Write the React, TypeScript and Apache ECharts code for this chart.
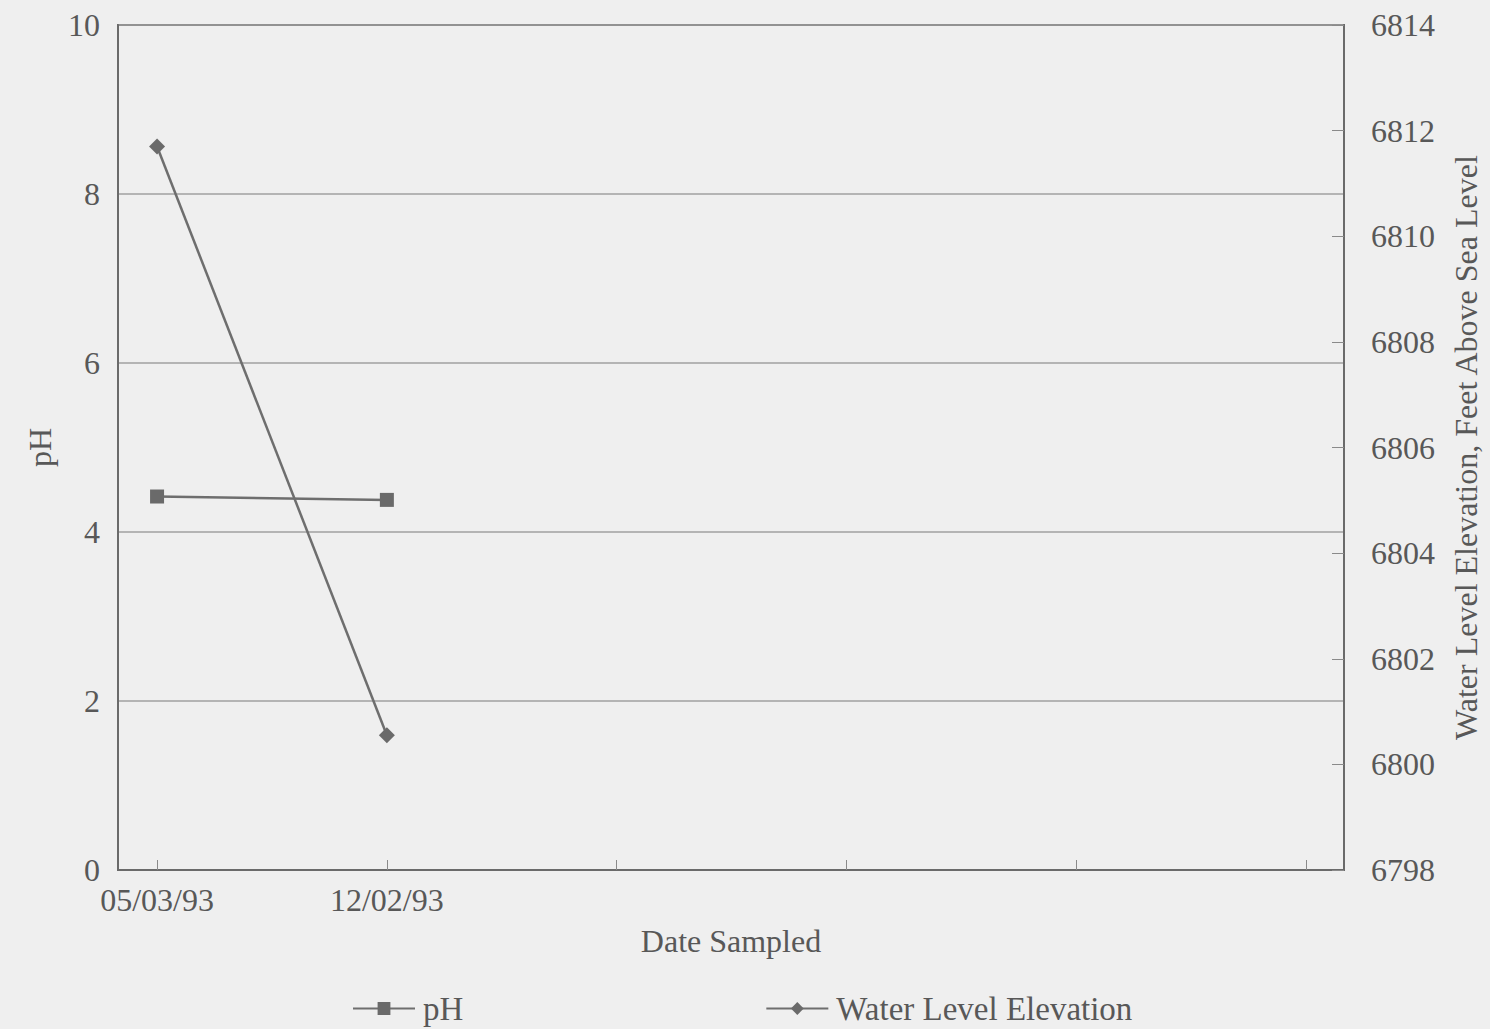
import React, { useEffect, useRef } from "react";
import * as echarts from "echarts";

const dates = ["05/03/93", "12/02/93"];
const xTickPositions = [0, 1, 2, 3, 4, 5];
const phValues = [4.42, 4.38];
const waterLevel = [6811.7, 6800.55];
const phTicks = { min: 0, max: 10, interval: 2 };
const elevTicks = { min: 6798, max: 6814, interval: 2 };

const FONT = "Liberation Serif";
const TXT = "#585858";
const LINE = "#6e6e6e";

export default function App() {
  const ref = useRef<HTMLDivElement>(null);
  useEffect(() => {
    if (!ref.current) return;
    const chart = echarts.init(ref.current, undefined, { renderer: "svg" });
    chart.setOption({
      animation: false,
      backgroundColor: "#efefef",
      textStyle: { fontFamily: FONT, color: TXT },
      grid: {
        left: 118,
        right: 143,
        top: 25,
        bottom: 159,
        show: true,
        borderColor: "#6a6a6a",
        borderWidth: 2,
        backgroundColor: "transparent",
      },
      legend: {
        left: 347,
        top: 987,
        itemWidth: 62,
        itemHeight: 16,
        itemGap: 302,
        textStyle: { fontFamily: FONT, fontSize: 33, color: TXT, padding: [0, 0, 0, 3] },
        data: ["pH", "Water Level Elevation"],
      },
      xAxis: {
        type: "value",
        min: -0.17,
        max: 5.165,
        name: "Date Sampled",
        nameLocation: "middle",
        nameGap: 55,
        nameTextStyle: { fontFamily: FONT, fontSize: 32, color: TXT },
        axisLine: { show: true, onZero: false, lineStyle: { color: "#6a6a6a", width: 2 } },
        axisTick: {
          show: true,
          inside: true,
          length: 10,
          customValues: xTickPositions,
          lineStyle: { color: "#8a8a8a" },
        },
        axisLabel: {
          customValues: [0, 1],
          formatter: (v: number) => dates[Math.round(v)] ?? "",
          fontFamily: FONT,
          fontSize: 32,
          color: TXT,
          margin: 14,
        },
        splitLine: { show: false },
      },
      yAxis: [
        {
          type: "value",
          ...phTicks,
          name: "pH",
          nameLocation: "middle",
          nameGap: 62,
          nameTextStyle: { fontFamily: FONT, fontSize: 32, color: TXT },
          axisLine: { show: true, onZero: false, lineStyle: { color: "#6a6a6a", width: 2 } },
          axisTick: { show: false },
          axisLabel: { fontFamily: FONT, fontSize: 32, color: TXT, margin: 18 },
          splitLine: { show: true, lineStyle: { color: "#a0a0a0", width: 1.5 } },
        },
        {
          type: "value",
          ...elevTicks,
          position: "right",
          name: "Water Level Elevation, Feet Above Sea Level",
          nameLocation: "middle",
          nameGap: 106,
          nameTextStyle: { fontFamily: FONT, fontSize: 32, color: TXT },
          axisLine: { show: true, onZero: false, lineStyle: { color: "#6a6a6a", width: 2 } },
          axisTick: { show: true, inside: true, length: 12, lineStyle: { color: "#8a8a8a" } },
          axisLabel: {
            fontFamily: FONT,
            fontSize: 32,
            color: TXT,
            margin: 27,
            formatter: (v: number) => String(v),
          },
          splitLine: { show: false },
        },
      ],
      series: [
        {
          name: "pH",
          type: "line",
          yAxisIndex: 0,
          data: phValues.map((v, i) => [i, v]),
          symbol: "rect",
          symbolSize: 14,
          lineStyle: { color: LINE, width: 2.5 },
          itemStyle: { color: "#6a6a6a" },
        },
        {
          name: "Water Level Elevation",
          type: "line",
          yAxisIndex: 1,
          data: waterLevel.map((v, i) => [i, v]),
          symbol: "diamond",
          symbolSize: 16,
          lineStyle: { color: LINE, width: 2.5 },
          itemStyle: { color: "#6a6a6a" },
        },
      ],
    });
    return () => chart.dispose();
  }, []);
  return (
    <div
      ref={ref}
      style={{ position: "fixed", left: 0, top: 0, width: 1490, height: 1029, background: "#efefef" }}
    />
  );
}
